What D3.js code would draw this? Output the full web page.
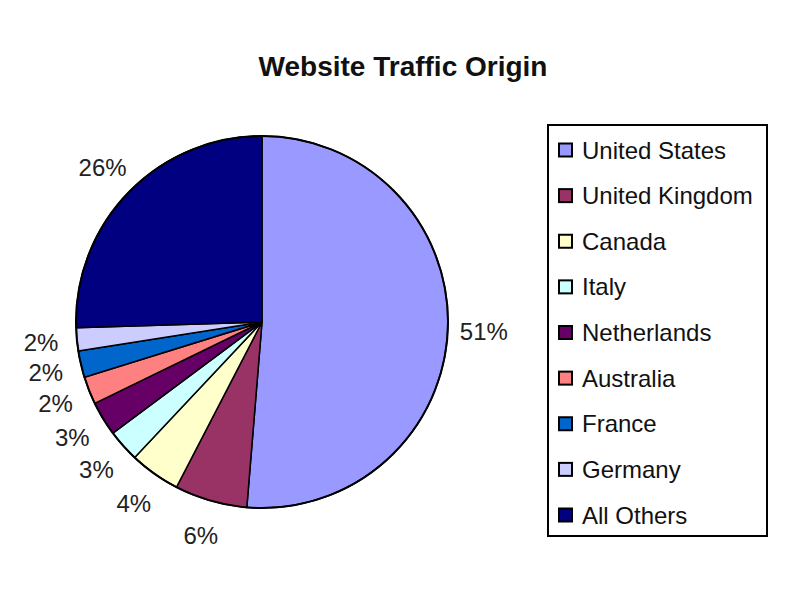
<!DOCTYPE html>
<html>
<head>
<meta charset="utf-8">
<script src="https://cdn.jsdelivr.net/npm/d3@7/dist/d3.min.js"></script>
<style>
  html, body { margin: 0; padding: 0; background: #fff; }
  svg { display: block; font-family: Arial, "Liberation Sans", sans-serif; }
</style>
</head>
<body>
<svg id="chart" width="800" height="600"></svg>
<script>
const title = "Website Traffic Origin";
const categories = ["United States", "United Kingdom", "Canada", "Italy", "Netherlands", "Australia", "France", "Germany", "All Others"];
const values = [51.3, 6.3, 4.4, 2.8, 3.0, 2.4, 2.3, 2.0, 25.5];
const labels = ["51%", "6%", "4%", "3%", "3%", "2%", "2%", "2%", "26%"];
const colors = ["#9999FF", "#993366", "#FFFFCC", "#CCFFFF", "#660066", "#FF8080", "#0066CC", "#CCCCFF", "#000080"];

const svg = d3.select("#chart");
const cx = 262, cy = 322, r = 186, labelR = 222;

svg.append("rect").attr("width", 800).attr("height", 600).attr("fill", "#fff");

svg.append("text")
  .attr("x", 403).attr("y", 76)
  .attr("text-anchor", "middle")
  .attr("font-weight", "bold")
  .attr("font-size", 28)
  .attr("fill", "#111")
  .text(title);

const data = categories.map((c, i) => ({ name: c, value: values[i], label: labels[i], color: colors[i] }));
const pie = d3.pie().value(d => d.value).sort(null);
const arcs = pie(data);
const arc = d3.arc().innerRadius(0).outerRadius(r);
const labelArc = d3.arc().innerRadius(labelR).outerRadius(labelR);

const g = svg.append("g").attr("transform", `translate(${cx},${cy})`);
g.selectAll("path.slice")
  .data(arcs)
  .join("path")
  .attr("class", "slice")
  .attr("d", arc)
  .attr("fill", d => d.data.color)
  .attr("stroke", "#000")
  .attr("stroke-width", 1.5)
  .attr("stroke-linejoin", "round");

g.append("circle").attr("r", r).attr("fill", "none").attr("stroke", "#000").attr("stroke-width", 2);

g.selectAll("text.pct")
  .data(arcs)
  .join("text")
  .attr("class", "pct")
  .attr("transform", d => `translate(${labelArc.centroid(d)})`)
  .attr("text-anchor", "middle")
  .attr("dominant-baseline", "central")
  .attr("font-size", 24)
  .attr("fill", "#222")
  .text(d => d.data.label);

// Legend
const lx = 548, ly = 125, lw = 219, lh = 411;
const lg = svg.append("g");
lg.append("rect").attr("x", lx).attr("y", ly).attr("width", lw).attr("height", lh)
  .attr("fill", "#fff").attr("stroke", "#000").attr("stroke-width", 2);

const rowY = d3.scalePoint().domain(categories).range([150, 515]);
const rows = lg.selectAll("g.row").data(data).join("g").attr("class", "row")
  .attr("transform", d => `translate(0,${rowY(d.name)})`);
rows.append("rect")
  .attr("x", 559).attr("y", -6.5).attr("width", 13).attr("height", 13)
  .attr("fill", d => d.color).attr("stroke", "#000").attr("stroke-width", 2);
rows.append("text")
  .attr("x", 582).attr("y", 0)
  .attr("dominant-baseline", "central")
  .attr("font-size", 24)
  .attr("fill", "#111")
  .text(d => d.name);
</script>
</body>
</html>
